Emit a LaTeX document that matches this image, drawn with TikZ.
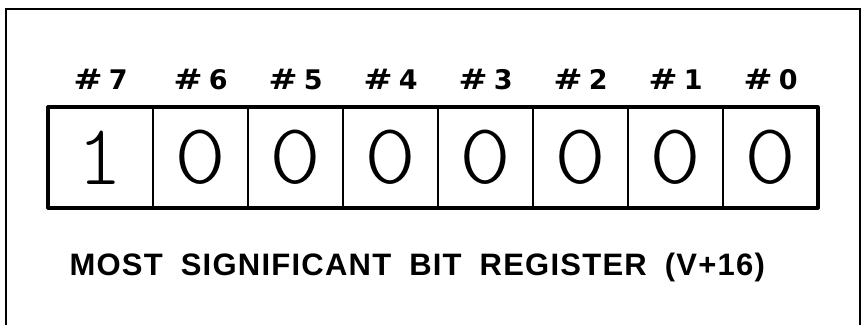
\documentclass[tikz,border=0pt]{standalone}
\usepackage{fontspec}
\setmainfont{Liberation Sans}
\newfontfamily\digitfont{lmmonolt10-regular.otf}
\newfontfamily\labelfont{DejaVu Sans}
\newfontfamily\titlefont[LetterSpace=4]{Liberation Sans}
\begin{document}
\begin{tikzpicture}[x=1pt,y=-1pt,
  cell/.style={draw, line width=2.4pt, minimum height=101pt, inner sep=0pt, outer sep=0pt,
    font=\digitfont\fontsize{86}{86}\selectfont},
  bitlabel/.style={anchor=base, font=\labelfont\bfseries\fontsize{27}{27}\selectfont},
  frame/.style={line width=1.6pt},
  titletext/.style={anchor=base west, font=\titlefont\bfseries\fontsize{31}{31}\selectfont}]
\useasboundingbox (0,0) rectangle (862,324);
\clip (0,0) rectangle (862,324);
\draw[frame] (6,340) -- (6,9) -- (860,9) -- (860,340);
\node[cell, minimum width=105pt] (c7) at (100.5,157.5) {1};
\foreach \i in {0,...,6} {
  \node[cell, minimum width=95pt] (c\i) at ({770.5-95*\i},157.5) {\scalebox{1.15}[1]{0}};
}
\draw[line width=3.2pt, line join=round] (c7.north west) rectangle (c0.south east);
\foreach \i in {0,...,7} {
  \node[bitlabel] (l\i) at ({c\i.center} |- 0,89) {\scalebox{1.3}[1.05]{\#}\hspace{6pt}\i};
}
\node[titletext] (title) at (66,275) {\spaceskip=18pt plus 2pt MOST SIGNIFICANT BIT REGISTER (V+16)};
\end{tikzpicture}
\end{document}
